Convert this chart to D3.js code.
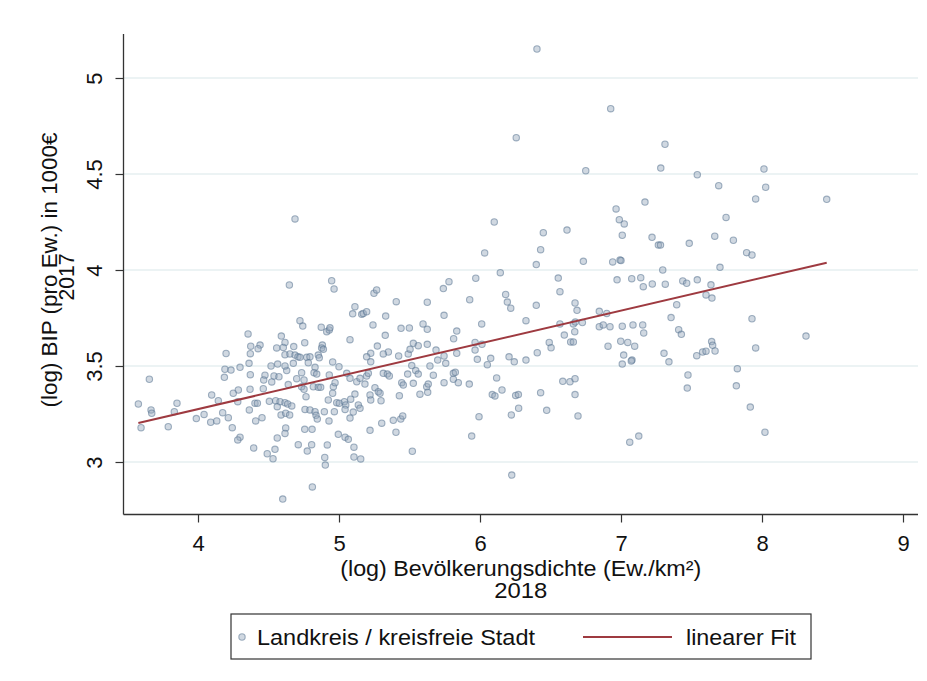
<!DOCTYPE html>
<html><head><meta charset="utf-8">
<script src="https://cdn.jsdelivr.net/npm/d3@7"></script>
<style>body{margin:0;background:#fff}svg{display:block}text{font-family:"Liberation Sans",Arial,sans-serif;fill:#111}</style>
</head><body><svg id="c" width="927" height="681"></svg>
<script>
// (log) population density 2018
const xVals = [
4.688,4.648,4.355,4.591,4.617,4.374,4.440,4.426,4.558,4.679,4.605,4.199,4.371,4.617,4.652,4.688,4.709,
4.298,4.362,4.191,4.234,4.187,4.371,3.655,4.475,4.466,4.523,4.539,4.574,4.629,4.617,4.565,4.518,4.676,4.640,4.700,4.369,4.463,4.286,4.250,4.097,4.144,4.282,3.577,3.851,3.667,3.672,3.832,4.404,4.421,4.364,4.506,4.551,4.582,4.617,4.562,4.636,4.665,4.175,4.043,4.215,3.988,4.090,4.133,4.589,4.622,4.650,4.454,4.409,3.596,3.789,4.243,4.622,4.617,4.298,4.282,4.562,4.395,4.546,4.491,4.532,4.711,4.601,
4.948,4.965,5.248,5.267,5.406,5.626,5.740,5.780,5.970,5.927,5.113,5.097,5.161,5.172,5.196,5.331,5.745,4.723,4.743,4.874,4.913,4.931,4.936,5.241,5.440,5.499,5.596,5.626,5.835,5.813,5.078,5.328,4.757,4.882,4.877,4.889,5.272,5.527,5.562,5.626,5.350,5.314,5.225,5.196,5.423,5.491,5.504,5.688,5.745,5.835,5.965,5.965,4.853,4.860,4.723,4.771,4.794,
4.782,4.830,4.735,4.823,4.842,4.752,4.735,4.752,4.818,4.853,4.870,4.931,4.955,5.000,4.960,4.972,4.955,4.924,4.984,5.002,5.038,5.048,5.043,5.083,5.113,5.101,5.137,5.149,5.078,4.766,4.759,4.794,4.830,4.837,4.846,4.896,4.967,4.929,4.757,4.809,4.775,4.806,4.917,4.899,4.903,4.995,5.043,5.066,5.106,5.106,5.154,4.811,5.055,5.078,5.126,5.149,5.196,5.208,5.184,5.225,5.255,5.279,5.291,5.220,5.225,5.298,5.314,5.343,5.357,5.445,5.456,5.428,5.487,5.516,5.527,5.544,5.562,5.574,5.622,5.629,5.633,5.645,5.669,5.700,5.757,5.745,5.811,5.825,5.811,5.846,5.981,5.924,5.993,5.941,5.303,5.220,5.385,5.438,5.452,5.404,5.520,
6.101,6.033,6.144,6.449,6.430,6.399,6.617,6.733,6.965,6.988,7.023,7.009,7.170,7.220,7.265,7.280,6.941,6.993,7.000,7.296,6.555,6.567,6.972,7.076,7.140,7.158,7.222,7.314,7.438,7.466,7.484,6.182,6.194,6.218,6.399,6.674,6.688,6.846,6.899,6.012,6.326,6.567,6.662,6.676,6.726,6.846,6.874,6.922,7.009,7.085,7.154,7.161,7.395,7.355,7.409,7.428,6.672,6.598,6.643,6.662,6.491,6.504,6.014,6.406,6.206,6.076,6.326,6.908,6.998,7.048,7.097,7.019,7.305,7.078,
6.052,6.243,7.009,7.073,7.340,7.475,7.470,6.118,6.156,6.087,6.106,6.253,6.272,6.430,6.274,6.222,6.473,6.587,6.638,6.674,6.674,6.695,6.225,7.062,7.126,
7.541,8.014,7.693,8.026,7.955,8.459,7.745,7.665,7.797,7.891,7.929,7.702,7.541,7.638,7.603,7.645,7.929,8.312,7.643,7.650,7.667,7.579,7.603,7.537,7.955,7.825,7.818,7.917,8.021,
6.404,6.927,6.257,7.312,6.750,7.282
];
// (log) GDP per inhabitant 2017, in 1000 EUR
const yVals = [
4.266,3.922,3.667,3.656,3.623,3.603,3.609,3.590,3.594,3.601,3.597,3.565,3.564,3.559,3.563,3.557,3.548,
3.493,3.514,3.483,3.479,3.441,3.455,3.431,3.452,3.427,3.417,3.448,3.444,3.476,3.500,3.510,3.500,3.514,3.403,3.434,3.379,3.382,3.375,3.358,3.349,3.319,3.314,3.302,3.306,3.271,3.254,3.262,3.306,3.306,3.271,3.316,3.319,3.314,3.309,3.288,3.302,3.292,3.257,3.248,3.231,3.226,3.207,3.214,3.245,3.254,3.245,3.231,3.214,3.179,3.184,3.179,3.177,3.149,3.129,3.115,3.125,3.073,3.066,3.043,3.017,3.090,2.807,
3.944,3.901,3.879,3.896,3.835,3.832,3.903,3.939,3.957,3.845,3.809,3.772,3.769,3.774,3.783,3.760,3.764,3.736,3.708,3.702,3.679,3.688,3.699,3.714,3.696,3.698,3.719,3.691,3.682,3.642,3.637,3.660,3.621,3.609,3.594,3.587,3.604,3.618,3.606,3.613,3.573,3.563,3.566,3.548,3.552,3.563,3.587,3.583,3.552,3.566,3.623,3.583,3.557,3.543,3.545,3.545,3.548,
3.517,3.493,3.465,3.465,3.458,3.427,3.392,3.379,3.392,3.389,3.389,3.453,3.521,3.496,3.392,3.413,3.358,3.323,3.309,3.306,3.314,3.297,3.274,3.327,3.354,3.260,3.297,3.280,3.229,3.340,3.274,3.271,3.262,3.243,3.224,3.262,3.262,3.214,3.170,3.170,3.057,3.090,3.089,3.024,2.984,3.144,3.129,3.118,3.077,3.026,3.016,2.870,3.462,3.436,3.418,3.436,3.448,3.462,3.406,3.522,3.387,3.366,3.358,3.349,3.323,3.319,3.462,3.458,3.448,3.413,3.401,3.345,3.458,3.502,3.410,3.476,3.458,3.353,3.392,3.363,3.406,3.500,3.452,3.531,3.514,3.413,3.462,3.467,3.431,3.413,3.535,3.406,3.236,3.135,3.202,3.165,3.217,3.224,3.240,3.155,3.056,
4.250,4.089,3.986,4.194,4.106,4.028,4.208,4.045,4.318,4.262,4.240,4.181,4.354,4.170,4.130,4.130,4.042,4.052,4.049,4.000,3.958,3.887,3.949,3.955,3.960,3.913,3.927,3.926,3.943,3.931,4.139,3.873,3.833,3.801,3.816,3.828,3.790,3.785,3.774,3.719,3.736,3.719,3.719,3.729,3.726,3.705,3.714,3.705,3.707,3.714,3.714,3.672,3.819,3.752,3.689,3.665,3.679,3.661,3.625,3.625,3.623,3.595,3.613,3.569,3.548,3.540,3.531,3.603,3.629,3.623,3.603,3.557,3.566,3.531,
3.507,3.522,3.510,3.526,3.522,3.453,3.385,3.438,3.375,3.351,3.344,3.347,3.351,3.361,3.280,3.245,3.269,3.420,3.418,3.434,3.351,3.240,2.932,3.103,3.135,
4.496,4.526,4.439,4.431,4.370,4.368,4.274,4.176,4.155,4.090,4.078,4.014,3.949,3.923,3.870,3.854,3.746,3.656,3.627,3.608,3.578,3.573,3.577,3.554,3.594,3.486,3.397,3.286,3.155,
5.151,4.840,4.689,4.655,4.517,4.531
];
const fitX = [3.577, 8.459];
const fitY = [3.203, 4.038];
const xTicks = [4,5,6,7,8,9];
const yTicks = [3,3.5,4,4.5,5];
const yTickLabels = ["3","3.5","4","4.5","5"];
const xTitle = ["(log) Bevölkerungsdichte (Ew./km²)", "2018"];
const yTitle = ["(log) BIP (pro Ew.) in 1000€", "2017"];
const legendLabels = ["Landkreis / kreisfreie Stadt", "linearer Fit"];

const svg = d3.select("#c");
const L = 123.5, R = 918, T = 34, B = 514.5;
const x = d3.scaleLinear().domain([4,9]).range([198,903]);
const y = d3.scaleLinear().domain([3,5]).range([462,78]);
const FS = 22;

// gridlines
svg.append("g").selectAll("line").data(yTicks).join("line")
  .attr("x1", L).attr("x2", R).attr("y1", d=>y(d)).attr("y2", d=>y(d))
  .attr("stroke", "#e6eff0").attr("stroke-width", 1.6);

// axes
const xa = svg.append("g").attr("transform", `translate(0,${B})`)
  .call(d3.axisBottom(x).tickValues(xTicks).tickSize(8).tickPadding(13).tickFormat(d3.format("d")));
xa.select(".domain").remove();
xa.selectAll("line").attr("stroke","#333").attr("stroke-width",1.2);
xa.selectAll("text").attr("font-size", FS).attr("font-family", '"Liberation Sans",Arial,sans-serif').attr("fill","#111");

const ya = svg.append("g").attr("transform", `translate(${L},0)`)
  .call(d3.axisLeft(y).tickValues(yTicks).tickSize(8).tickFormat((d,i)=>yTickLabels[i]));
ya.select(".domain").remove();
ya.selectAll("line").attr("stroke","#333").attr("stroke-width",1.2);
ya.selectAll("text").attr("font-size", FS).attr("font-family", '"Liberation Sans",Arial,sans-serif').attr("fill","#111")
  .attr("text-anchor","middle").attr("x",0).attr("dy",0)
  .attr("transform","translate(-22,0) rotate(-90)");

// axis lines
svg.append("line").attr("x1",L).attr("x2",L).attr("y1",T).attr("y2",B).attr("stroke","#333").attr("stroke-width",1.3);
svg.append("line").attr("x1",L).attr("x2",R).attr("y1",B).attr("y2",B).attr("stroke","#333").attr("stroke-width",1.3);

// points
const pts = xVals.map((v,i)=>[v,yVals[i]]);
svg.append("g").selectAll("circle").data(pts).join("circle")
  .attr("cx", d=>x(d[0])).attr("cy", d=>y(d[1])).attr("r", 3.2)
  .attr("fill", "#97a9bd").attr("fill-opacity", 0.45)
  .attr("stroke", "#5a7592").attr("stroke-opacity", 0.55).attr("stroke-width", 1.1);

// fit line
svg.append("line").attr("x1", x(fitX[0])).attr("y1", y(fitY[0])).attr("x2", x(fitX[1])).attr("y2", y(fitY[1]))
  .attr("stroke", "#9e3a40").attr("stroke-width", 2);

// titles
const cx = (L+R)/2;
svg.append("text").attr("x", cx).attr("y", 576).attr("text-anchor","middle").attr("font-size",FS)
  .attr("textLength",361).attr("lengthAdjust","spacingAndGlyphs").text(xTitle[0]);
svg.append("text").attr("x", cx).attr("y", 598).attr("text-anchor","middle").attr("font-size",FS)
  .attr("textLength",53).attr("lengthAdjust","spacingAndGlyphs").text(xTitle[1]);
svg.append("text").attr("transform",`translate(57,270) rotate(-90)`).attr("text-anchor","middle").attr("font-size",FS)
  .attr("textLength",275).attr("lengthAdjust","spacingAndGlyphs").text(yTitle[0]);
svg.append("text").attr("transform",`translate(73.5,277) rotate(-90)`).attr("text-anchor","middle").attr("font-size",FS)
  .attr("textLength",47).attr("lengthAdjust","spacingAndGlyphs").text(yTitle[1]);

// legend
const lg = svg.append("g");
lg.append("rect").attr("x",231).attr("y",614).attr("width",580).attr("height",45)
  .attr("fill","#fff").attr("stroke","#333").attr("stroke-width",1.2);
lg.append("circle").attr("cx",242).attr("cy",637).attr("r",3.2)
  .attr("fill", "#97a9bd").attr("fill-opacity", 0.45)
  .attr("stroke", "#5a7592").attr("stroke-opacity", 0.55).attr("stroke-width", 1.1);
lg.append("text").attr("x",257).attr("y",644.5).attr("font-size",FS)
  .attr("textLength",278).attr("lengthAdjust","spacingAndGlyphs").text(legendLabels[0]);
lg.append("line").attr("x1",583).attr("x2",672).attr("y1",637).attr("y2",637).attr("stroke","#9e3a40").attr("stroke-width",2);
lg.append("text").attr("x",686).attr("y",644.5).attr("font-size",FS)
  .attr("textLength",110).attr("lengthAdjust","spacingAndGlyphs").text(legendLabels[1]);
</script></body></html>
